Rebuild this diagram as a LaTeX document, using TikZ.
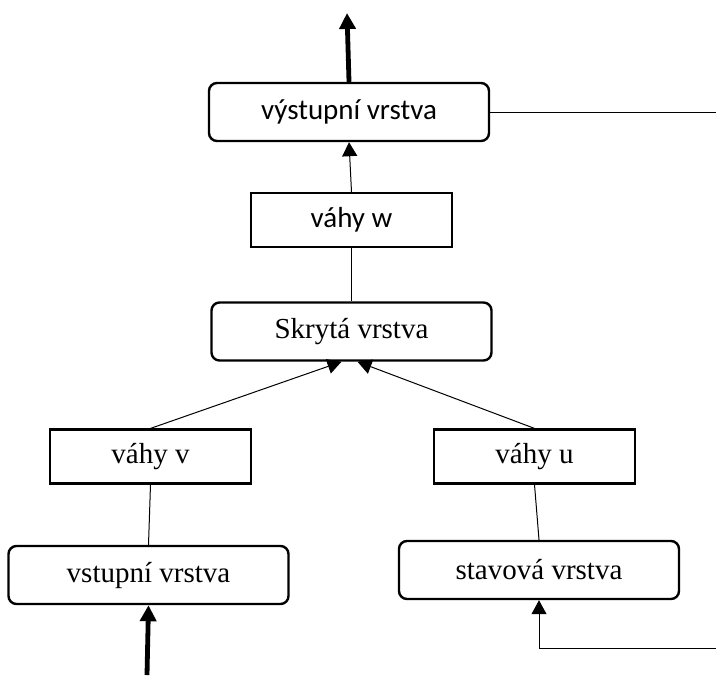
\documentclass[tikz,border=0pt]{standalone}
\usepackage{fontspec}
\setmainfont{Liberation Serif}
\newfontfamily\calibri{Carlito}
\usetikzlibrary{arrows.meta}
\tikzset{
    layer/.style={draw,line width=1.2pt,rounded corners=4pt,minimum width=140pt,minimum height=29pt,font=\fontsize{14.5}{17}\selectfont},
    weights/.style={draw,line width=1.1pt,minimum width=100.5pt,minimum height=27pt,font=\fontsize{14.5}{17}\selectfont},
    sans/.style={font=\calibri\fontsize{14.5}{17}\selectfont},
    link/.style={line width=0.5pt},
    feed/.style={line width=0.5pt,-{Triangle[length=7pt,width=7.5pt]}},
    io/.style={line width=2.4pt,-{Triangle[length=8pt,width=8pt]}}
}
\begin{document}
\begin{tikzpicture}[x=0.5pt,y=-0.5pt]
    \useasboundingbox (0,0) rectangle (716,675);
    % layers
    \node[layer,sans] (out) at (349,112){výstupní vrstva};
    \node[weights,sans] (w) at (351.5,220){váhy w};
    \node[layer] (hid) at (351.5,331.5){Skrytá vrstva};
    \node[weights] (v) at (150.5,456.5){váhy v};
    \node[weights] (u) at (534.5,456.5){váhy u};
    \node[layer] (in) at (148.5,575){vstupní vrstva};
    \node[layer] (state) at (539,570){stavová vrstva};
    % free ends
    \coordinate (top) at (347,13);
    \coordinate (bottom) at (147,675);
    \coordinate (edge1) at (716,112);
    \coordinate (edge2) at (716,648);
    \draw[io] (out.north) -- (top);
    \draw[link] (out.east) -- (edge1);
    \draw[feed] (w.north) -- (out.south);
    \draw[link] (w.south) -- (hid.north);
    \draw[feed] (v.north) -- ([xshift=-5pt]hid.south);
    \draw[feed] (u.north) -- ([xshift=3pt]hid.south);
    \draw[link] (v.south) -- (in.north);
    \draw[link] (u.south) -- (state.north);
    \draw[io] (bottom) -- (in.south);
    \draw[feed] (edge2) -| (state.south);
\end{tikzpicture}
\end{document}
